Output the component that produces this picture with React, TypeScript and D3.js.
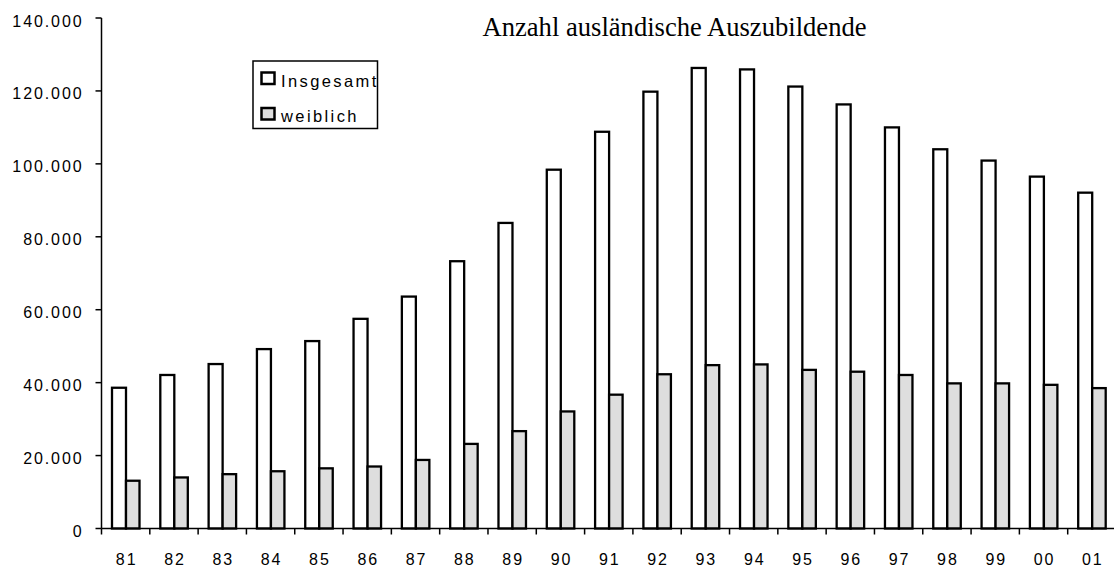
import React from "react";
import * as d3 from "d3";

const categories = ["81","82","83","84","85","86","87","88","89","90","91","92","93","94","95","96","97","98","99","00","01"];
const insgesamt = [38600,42100,45100,49200,51400,57500,63600,73300,83800,98400,108800,119800,126300,125900,121200,116300,110000,104000,100900,96500,92100];
const weiblich = [13100,14000,14900,15700,16500,17000,18800,23200,26700,32100,36700,42300,44800,45000,43500,43000,42100,39800,39800,39400,38500];
const yTicks = [0,20000,40000,60000,80000,100000,120000,140000];
const seriesNames = ["Insgesamt","weiblich"];
const title = "Anzahl ausländische Auszubildende";

const W = 1114, H = 568;
const x0 = 101.5, bandW = 48.31;
const x = d3.scaleBand<string>().domain(categories).range([x0, x0 + bandW * categories.length]).padding(0);
const y = d3.scaleLinear().domain([0, 140000]).range([528.5, 18]);
const fmt = d3.formatLocale({ decimal: ",", thousands: ".", grouping: [3], currency: ["", "€"] }).format(",");

const sans = "'Liberation Sans', Arial, sans-serif";
const GRAY = "#dedede";

export default function App() {
  return (
    <svg width={W} height={H} style={{ position: "absolute", left: 0, top: 0, background: "#fff" }}>
      <rect x={0} y={0} width={W} height={H} fill="#fff" />
      {/* title */}
      <text x={482.5} y={36} fontFamily="'Liberation Serif', 'Times New Roman', serif" fontSize={26.6} fill="#000">{title}</text>

      {/* bars */}
      {categories.map((c, i) => {
        const bx = x(c)!;
        return (
          <g key={c}>
            <rect x={bx + 10.5} y={y(insgesamt[i])} width={14} height={y(0) - y(insgesamt[i])} fill="#fff" stroke="#000" strokeWidth={2.3} />
            <rect x={bx + 24.5} y={y(weiblich[i])} width={13.5} height={y(0) - y(weiblich[i])} fill={GRAY} stroke="#000" strokeWidth={2.3} />
          </g>
        );
      })}

      {/* y axis */}
      <line x1={x0} x2={x0} y1={y(140000)} y2={y(0)} stroke="#000" strokeWidth={1.5} />
      {yTicks.map((t) => (
        <g key={t}>
          <line x1={x0 - 6} x2={x0} y1={y(t)} y2={y(t)} stroke="#000" strokeWidth={1.5} />
          <text x={83.5} y={y(t) + 8.5} textAnchor="end" fontFamily={sans} fontSize={16} letterSpacing={1.9} fill="#000">{fmt(t)}</text>
        </g>
      ))}

      {/* x axis */}
      <line x1={x0} x2={W} y1={y(0)} y2={y(0)} stroke="#000" strokeWidth={1.5} />
      {categories.map((c) => (
        <g key={"t" + c}>
          <line x1={x(c)!} x2={x(c)!} y1={y(0)} y2={y(0) + 6} stroke="#000" strokeWidth={1.5} />
          <text x={x(c)! + x.bandwidth() / 2 + 1} y={565} textAnchor="middle" fontFamily={sans} fontSize={16} letterSpacing={1.9} fill="#000">{c}</text>
        </g>
      ))}

      {/* legend */}
      <rect x={253} y={61} width={124.5} height={67.5} fill="#fff" stroke="#000" strokeWidth={1.5} />
      <rect x={261.5} y={72.5} width={13} height={11.5} fill="#fff" stroke="#000" strokeWidth={2.5} />
      <text x={281} y={86.5} fontFamily={sans} fontSize={16.5} letterSpacing={2.4} fill="#000">{seriesNames[0]}</text>
      <rect x={261.5} y={108} width={13} height={11.5} fill={GRAY} stroke="#000" strokeWidth={2.5} />
      <text x={281} y={121.5} fontFamily={sans} fontSize={16.5} letterSpacing={2.4} fill="#000">{seriesNames[1]}</text>
    </svg>
  );
}
